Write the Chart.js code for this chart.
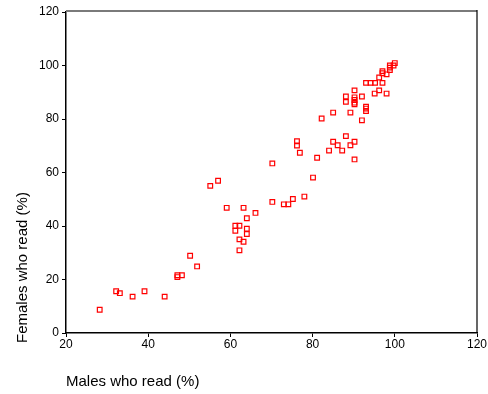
<!DOCTYPE html>
<html>
<head>
<meta charset="utf-8">
<script src="https://cdn.jsdelivr.net/npm/chart.js@4/dist/chart.umd.min.js"></script>
<style>
  html, body { margin: 0; padding: 0; background: #fff; }
  #chart { display: block; }
</style>
</head>
<body>
<canvas id="chart" width="488" height="394"></canvas>
<script>
// Literacy by country: male vs female share who read (%)
const malesRead = [
  28.2, 32.2, 33.1, 36.2, 39.1, 44.0, 47.1, 47.1, 48.2, 50.2, 51.9,
  55.1, 57.0, 59.1, 61.2, 61.2, 62.2, 62.2, 62.2, 63.2, 63.2, 64.0, 64.0, 64.0, 66.1,
  70.2, 70.2, 73.0, 74.1, 75.2, 76.2, 76.2, 76.9, 78.0, 80.1, 81.1, 82.2,
  84.0, 85.0, 85.0, 86.1, 87.2, 88.1, 88.1, 88.1, 89.2, 89.2,
  90.2, 90.2, 90.2, 90.2, 90.2, 90.2, 90.2,
  92.0, 92.0, 93.0, 93.0, 93.0, 93.0, 94.1, 95.2, 95.1, 96.2, 96.2,
  97.0, 97.0, 97.0, 98.0, 98.0,
  98.8, 98.8, 98.8, 99.7, 100.0
];
const femalesRead = [
  8.7, 15.6, 14.9, 13.6, 15.6, 13.6, 21.6, 20.9, 21.6, 28.9, 24.9,
  55.0, 56.9, 46.8, 40.1, 38.2, 40.1, 35.0, 30.9, 46.8, 34.1, 42.9, 39.0, 37.0, 44.9,
  63.4, 49.0, 48.1, 48.1, 50.1, 71.7, 70.1, 67.4, 51.0, 58.1, 65.5, 80.2,
  68.2, 82.4, 71.5, 70.2, 68.2, 73.6, 88.4, 86.4, 82.4, 70.2,
  90.7, 88.1, 87.1, 86.1, 85.5, 71.5, 64.9,
  88.4, 79.5, 84.6, 83.9, 83.0, 93.5, 93.5, 93.5, 89.5, 95.5, 90.7,
  97.9, 97.1, 93.5, 96.7, 89.5,
  98.3, 99.2, 100.0, 100.0, 100.9
];
const xTicks = [20, 40, 60, 80, 100, 120];
const yTicks = [0, 20, 40, 60, 80, 100, 120];

const xTitle = 'Males who read (%)';
const yTitle = 'Females who read (%)';
const fontFamily = "'Liberation Sans', Arial, Helvetica, sans-serif";

// top and right frame lines + the y axis title
const framePlugin = {
  id: 'frame',
  afterDraw(chart) {
    const { ctx, chartArea } = chart;
    ctx.save();
    ctx.strokeStyle = '#7a7a7a';
    ctx.lineWidth = 2;
    ctx.beginPath();
    ctx.moveTo(chartArea.left, chartArea.top - 1);
    ctx.lineTo(chartArea.right, chartArea.top - 1);
    ctx.stroke();
    ctx.strokeStyle = '#000';
    ctx.lineWidth = 1.2;
    ctx.beginPath();
    ctx.moveTo(chartArea.right, chartArea.top - 2);
    ctx.lineTo(chartArea.right, chartArea.bottom);
    ctx.stroke();

    ctx.translate(23, 343);
    ctx.rotate(-Math.PI / 2);
    ctx.font = '15px ' + fontFamily;
    ctx.fillStyle = '#000';
    ctx.textAlign = 'left';
    ctx.textBaseline = 'middle';
    ctx.fillText(yTitle, 0, 0);
    ctx.restore();
  }
};

const points = malesRead.map((m, i) => ({ x: m, y: femalesRead[i] }));

new Chart(document.getElementById('chart'), {
  type: 'scatter',
  data: {
    datasets: [{
      data: points,
      pointStyle: 'rect',
      pointRadius: 3.3,
      pointHoverRadius: 3.3,
      borderWidth: 1.2,
      borderColor: '#ff0000',
      backgroundColor: 'rgba(255,255,255,0)'
    }]
  },
  options: {
    responsive: false,
    animation: false,
    devicePixelRatio: 1,
    layout: { padding: { top: 12, right: 11, left: 0, bottom: 0 } },
    plugins: {
      legend: { display: false },
      tooltip: { enabled: false }
    },
    scales: {
      x: {
        type: 'linear',
        min: 20,
        max: 120,
        afterBuildTicks: (scale) => { scale.ticks = xTicks.map(v => ({ value: v })); },
        afterFit: (scale) => { scale.height = 61; },
        border: { display: true, color: '#000', width: 1.5 },
        grid: { drawOnChartArea: false, drawTicks: true, tickLength: 4, color: '#000', lineWidth: 1 },
        ticks: { color: '#000', padding: 0, maxRotation: 0, font: { family: fontFamily, size: 12 } },
        title: {
          display: true,
          text: xTitle,
          align: 'start',
          color: '#000',
          font: { family: fontFamily, size: 15 },
          padding: { top: 0, bottom: 3 }
        }
      },
      y: {
        type: 'linear',
        min: 0,
        max: 120,
        afterBuildTicks: (scale) => { scale.ticks = yTicks.map(v => ({ value: v })); },
        afterFit: (scale) => { scale.width = 66; },
        border: { display: true, color: '#000', width: 1.5 },
        grid: { drawOnChartArea: false, drawTicks: true, tickLength: 4, color: '#000', lineWidth: 1 },
        ticks: { color: '#000', padding: 3, font: { family: fontFamily, size: 12 } }
      }
    }
  },
  plugins: [framePlugin]
});
</script>
</body>
</html>
